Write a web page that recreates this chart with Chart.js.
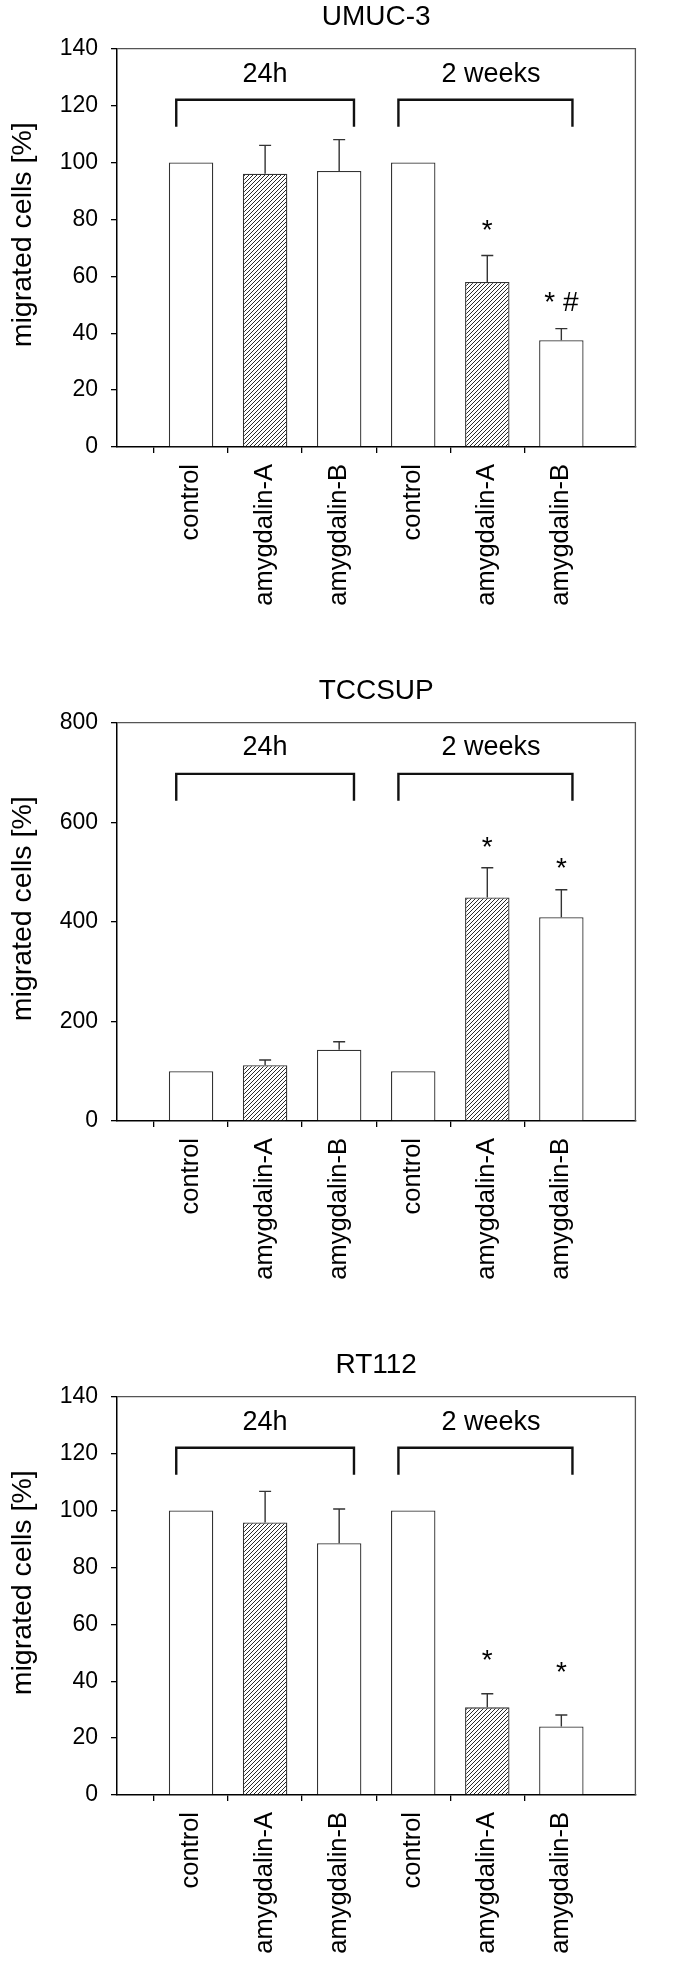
<!DOCTYPE html>
<html>
<head>
    <title>Migrated cells</title>
    <meta charset="utf-8">
    <style>
        body { margin: 0; background: #fff; }
        .panel { position: relative; width: 677px; height: 616px; margin-bottom: 58px; }
        .panel:last-child { margin-bottom: 0; }
    </style>
</head>
<body>
    <div class="panel"><canvas id="umuc"></canvas></div>
    <div class="panel"><canvas id="tccsup"></canvas></div>
    <div class="panel"><canvas id="rt112"></canvas></div>

    <script src="https://cdn.jsdelivr.net/npm/chart.js"></script>
    <script>
        // categories on the x axis (same for all three panels)
        var categories = ['control', 'amygdalin-A', 'amygdalin-B', 'control', 'amygdalin-A', 'amygdalin-B'];
        var hatched = [false, true, false, false, true, false];
        var groupLabels = ['24h', '2 weeks'];

        // UMUC-3
        var umucValues = [100, 96, 97, 100, 58, 37.5];
        var umucErrors = [0, 10, 11, 0, 9.3, 4.1];
        var umucMarks = ['', '', '', '', '*', '* #'];
        var umucMarkAt = [null, null, null, null, 78.7, 53.5];

        // TCCSUP
        var tccsupValues = [100, 112, 143, 100, 449, 409];
        var tccsupErrors = [0, 10.5, 16, 0, 59.5, 55.5];
        var tccsupMarks = ['', '', '', '', '*', '*'];
        var tccsupMarkAt = [null, null, null, null, 564, 523];

        // RT112
        var rt112Values = [100, 95.8, 88.5, 100, 30.8, 24.1];
        var rt112Errors = [0, 10.9, 12, 0, 4.8, 4];
        var rt112Marks = ['', '', '', '', '*', '*'];
        var rt112MarkAt = [null, null, null, null, 50, 45.7];

        // y axis ticks
        var umucTicks = [0, 20, 40, 60, 80, 100, 120, 140];
        var tccsupTicks = [0, 200, 400, 600, 800];
        var rt112Ticks = [0, 20, 40, 60, 80, 100, 120, 140];

        var yTitle = 'migrated cells [%]';
        var FONT = "'Liberation Sans', Arial, sans-serif";

        function hatchPattern() {
            var c = document.createElement('canvas');
            c.width = 4; c.height = 4;
            var g = c.getContext('2d');
            g.fillStyle = '#fff';
            g.fillRect(0, 0, 4, 4);
            g.strokeStyle = '#2a2a2a';
            g.lineWidth = 1;
            g.beginPath();
            g.moveTo(0, 4); g.lineTo(4, 0);
            g.moveTo(-1, 1); g.lineTo(1, -1);
            g.moveTo(3, 5); g.lineTo(5, 3);
            g.stroke();
            return g.createPattern(c, 'repeat');
        }

        // frame, error bars, brackets, significance marks, y title
        var extras = {
            id: 'extras',
            afterDatasetsDraw: function(chart, args, opts) {
                var ctx = chart.ctx, x = chart.scales.x, y = chart.scales.y, area = chart.chartArea;
                ctx.save();

                // top and right side of the box
                ctx.strokeStyle = '#555';
                ctx.lineWidth = 1.3;
                ctx.beginPath();
                ctx.moveTo(area.left, area.top);
                ctx.lineTo(area.right, area.top);
                ctx.lineTo(area.right, area.bottom);
                ctx.stroke();

                // error bars (upper only)
                ctx.strokeStyle = '#333';
                ctx.lineWidth = 1.4;
                opts.values.forEach(function(v, i) {
                    if (!opts.errors[i]) return;
                    var px = x.getPixelForValue(i + 1);
                    var y0 = y.getPixelForValue(v);
                    var y1 = y.getPixelForValue(v + opts.errors[i]);
                    ctx.beginPath();
                    ctx.moveTo(px, y0); ctx.lineTo(px, y1);
                    ctx.moveTo(px - 6, y1); ctx.lineTo(px + 6, y1);
                    ctx.stroke();
                });

                // group brackets
                var b = opts.bracket;
                ctx.strokeStyle = '#111';
                ctx.lineWidth = 2.4;
                ctx.fillStyle = '#000';
                ctx.font = '27px ' + FONT;
                ctx.textAlign = 'center';
                ctx.textBaseline = 'middle';
                groupLabels.forEach(function(lbl, i) {
                    var xa = x.getPixelForValue(b.from[i] + 1);
                    var xb = x.getPixelForValue(b.to[i] + 1);
                    var yt = y.getPixelForValue(b.top);
                    var yb = y.getPixelForValue(b.bottom);
                    ctx.beginPath();
                    ctx.moveTo(xa, yb); ctx.lineTo(xa, yt); ctx.lineTo(xb, yt); ctx.lineTo(xb, yb);
                    ctx.stroke();
                    ctx.fillText(lbl, x.getPixelForValue(b.center[i] + 1), y.getPixelForValue(b.label));
                });

                // significance marks
                ctx.font = '28px ' + FONT;
                ctx.textBaseline = 'alphabetic';
                opts.marks.forEach(function(m, i) {
                    if (!m) return;
                    var px = x.getPixelForValue(i + 1);
                    var py = y.getPixelForValue(opts.markAt[i]);
                    ctx.fillText(m, px, py + 16);
                });

                // y axis title, sits a bit above the middle of the axis
                ctx.font = '28.5px ' + FONT;
                ctx.textBaseline = 'middle';
                ctx.translate(23, (area.top + area.bottom) / 2 - 13);
                ctx.rotate(-Math.PI / 2);
                ctx.fillText(yTitle, 0, 0);

                ctx.restore();
            }
        };

        function makeChart(id, title, values, errors, marks, markAt, ticks, bracket) {
            var pattern = hatchPattern();
            var labels = [''].concat(categories, ['']);
            var data = [null].concat(values, [null]);
            var fills = ['#fff'].concat(hatched.map(function(h) { return h ? pattern : '#fff'; }), ['#fff']);
            var yMax = ticks[ticks.length - 1];

            return new Chart(document.getElementById(id), {
                type: 'bar',
                data: {
                    labels: labels,
                    datasets: [{
                        data: data,
                        backgroundColor: fills,
                        borderColor: '#333',
                        borderWidth: 1.3,
                        borderSkipped: 'bottom',
                        categoryPercentage: 0.6,
                        barPercentage: 1
                    }]
                },
                options: {
                    responsive: true,
                    maintainAspectRatio: false,
                    animation: false,
                    layout: { padding: { right: 9, left: 0, top: 0, bottom: 0 } },
                    plugins: {
                        legend: { display: false },
                        tooltip: { enabled: false },
                        title: {
                            display: true,
                            text: title,
                            fullSize: false,
                            color: '#000',
                            font: { family: FONT, size: 28, weight: 'normal' },
                            padding: { top: 0, bottom: 15 }
                        },
                        extras: {
                            values: values,
                            errors: errors,
                            marks: marks,
                            markAt: markAt,
                            bracket: bracket
                        }
                    },
                    scales: {
                        x: {
                            type: 'category',
                            offset: false,
                            grid: {
                                drawOnChartArea: false,
                                drawTicks: true,
                                tickLength: 6,
                                lineWidth: 1.3,
                                tickColor: function(c) {
                                    return (c.index === 0 || c.index === labels.length - 1) ? 'rgba(0,0,0,0)' : '#000';
                                }
                            },
                            border: { display: true, color: '#000', width: 1.5 },
                            ticks: {
                                autoSkip: false,
                                maxRotation: 90,
                                minRotation: 90,
                                padding: 11,
                                color: '#000',
                                font: { family: FONT, size: 25.5 }
                            },
                            afterFit: function(scale) { scale.height = 616 - 447; }
                        },
                        y: {
                            min: 0,
                            max: yMax,
                            afterBuildTicks: function(scale) {
                                scale.ticks = ticks.map(function(v) { return { value: v }; });
                            },
                            grid: {
                                drawOnChartArea: false,
                                drawTicks: true,
                                tickLength: 6,
                                lineWidth: 1.3,
                                tickColor: '#000'
                            },
                            border: { display: true, color: '#000', width: 1.5 },
                            ticks: {
                                padding: 13,
                                color: '#000',
                                font: { family: FONT, size: 23 }
                            },
                            afterFit: function(scale) { scale.width = 117; }
                        }
                    }
                },
                plugins: [extras]
            });
        }

        var brackets140 = { from: [-0.2, 2.8], to: [2.2, 5.15], center: [1, 4.05], top: 122, bottom: 112.5, label: 131 };
        var brackets800 = { from: [-0.2, 2.8], to: [2.2, 5.15], center: [1, 4.05], top: 697, bottom: 643, label: 749 };

        makeChart('umuc', 'UMUC-3', umucValues, umucErrors, umucMarks, umucMarkAt, umucTicks, brackets140);
        makeChart('tccsup', 'TCCSUP', tccsupValues, tccsupErrors, tccsupMarks, tccsupMarkAt, tccsupTicks, brackets800);
        makeChart('rt112', 'RT112', rt112Values, rt112Errors, rt112Marks, rt112MarkAt, rt112Ticks, brackets140);
    </script>
</body>
</html>
